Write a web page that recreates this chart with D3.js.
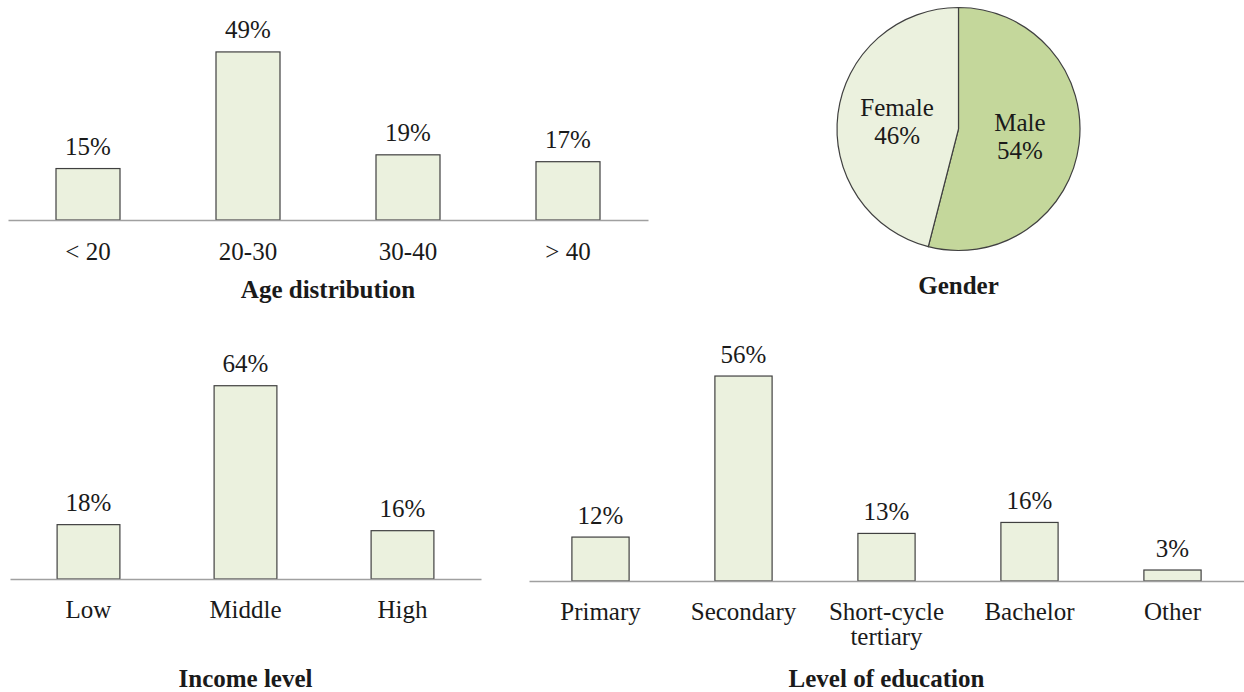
<!DOCTYPE html>
<html>
<head>
<meta charset="utf-8">
<script src="https://cdn.jsdelivr.net/npm/d3@7"></script>
<style>
  html, body { margin: 0; padding: 0; background: #ffffff; }
  svg { display: block; }
</style>
</head>
<body>
<svg id="chart" width="1244" height="692"></svg>
<script>
// Survey profile data (percent of respondents)
const ageCategories = ["< 20", "20-30", "30-40", "> 40"];
const ageValues = [15, 49, 19, 17];

const genderCategories = ["Male", "Female"];
const genderValues = [54, 46];

const incomeCategories = ["Low", "Middle", "High"];
const incomeValues = [18, 64, 16];

const educationCategories = ["Primary", "Secondary", "Short-cycle tertiary", "Bachelor", "Other"];
const educationValues = [12, 56, 13, 16, 3];

const svg = d3.select("#chart");
const SERIF = "'Liberation Serif', 'Times New Roman', 'DejaVu Serif', serif";
const FONT = 25;
const TEXT_COLOR = "#1a1a1a";
const barFill = "#ebf1de";
const barStroke = "#404040";
const axisColor = "#a0a0a0";

function styleText(sel, bold) {
  return sel
    .style("font-family", SERIF)
    .style("font-size", FONT + "px")
    .style("font-weight", bold ? "bold" : "normal")
    .style("fill", TEXT_COLOR);
}

function barPanel(opts) {
  const { categories, values, x0, x1, baseY, yMax, yTop, labelY, titleY, title } = opts;
  const g = svg.append("g");
  const x = d3.scaleBand().domain(categories).range([x0, x1])
    .paddingInner(0.6).paddingOuter(0.3);
  const y = d3.scaleLinear().domain([0, yMax]).range([baseY, yTop]);

  g.selectAll("rect.bar").data(values).join("rect")
    .attr("class", "bar")
    .attr("x", (d, i) => x(categories[i]))
    .attr("y", d => y(d))
    .attr("width", x.bandwidth())
    .attr("height", d => baseY - y(d))
    .attr("fill", barFill)
    .attr("stroke", barStroke)
    .attr("stroke-width", 1.2);

  g.selectAll("text.val").data(values).join("text")
    .attr("class", "val")
    .attr("x", (d, i) => x(categories[i]) + x.bandwidth() / 2)
    .attr("y", d => y(d) - 22)
    .attr("text-anchor", "middle")
    .attr("dominant-baseline", "central")
    .call(styleText, false)
    .text(d => d + "%");

  const axis = d3.axisBottom(x).tickSize(0).tickSizeOuter(0).tickPadding(0).tickFormat(() => "");
  const ax = g.append("g").attr("transform", `translate(0,${baseY})`).call(axis);
  ax.select(".domain").attr("stroke", axisColor).attr("stroke-width", 1.5);

  // category labels, long names wrapped onto two lines
  ax.selectAll(".tick").each(function(d) {
    const t = d3.select(this).append("text")
      .attr("y", labelY - baseY)
      .attr("text-anchor", "middle")
      .attr("dominant-baseline", "central")
      .call(styleText, false);
    const words = d.length > 12 ? d.split(" ") : [d];
    words.forEach((w, i) => {
      t.append("tspan").attr("x", 0).attr("dy", i === 0 ? 0 : 25).text(w);
    });
  });

  g.append("text")
    .attr("x", (x0 + x1) / 2)
    .attr("y", titleY)
    .attr("text-anchor", "middle")
    .attr("dominant-baseline", "central")
    .call(styleText, true)
    .text(title);
}

barPanel({ categories: ageCategories, values: ageValues, x0: 8, x1: 648, baseY: 220,
  yMax: 50, yTop: 220 - 171.5, labelY: 251, titleY: 289, title: "Age distribution" });

barPanel({ categories: incomeCategories, values: incomeValues, x0: 10, x1: 481, baseY: 579,
  yMax: 70, yTop: 579 - 211.4, labelY: 609, titleY: 678, title: "Income level" });

barPanel({ categories: educationCategories, values: educationValues, x0: 529, x1: 1244, baseY: 581,
  yMax: 60, yTop: 581 - 219.6, labelY: 611, titleY: 678, title: "Level of education" });

// Gender pie
const cx = 958.5, cy = 129, r = 121.5;
const pieG = svg.append("g").attr("transform", `translate(${cx},${cy})`);
const pie = d3.pie().sort(null).value(d => d)(genderValues);
const arc = d3.arc().innerRadius(0).outerRadius(r);
const pieColors = ["#c4d79b", "#ebf1de"];
pieG.selectAll("path").data(pie).join("path")
  .attr("d", arc)
  .attr("fill", (d, i) => pieColors[i])
  .attr("stroke", "#404040")
  .attr("stroke-width", 1.2);

const labelArc = d3.arc().innerRadius(r * 0.51).outerRadius(r * 0.51);
pie.forEach((d, i) => {
  const [lx, ly] = labelArc.centroid(d);
  const t = pieG.append("text")
    .attr("text-anchor", "middle")
    .call(styleText, false);
  t.append("tspan").attr("x", lx).attr("y", ly - 14).attr("dominant-baseline", "central").text(genderCategories[i]);
  t.append("tspan").attr("x", lx).attr("y", ly + 14).attr("dominant-baseline", "central").text(genderValues[i] + "%");
});

svg.append("text")
  .attr("x", cx).attr("y", 285)
  .attr("text-anchor", "middle")
  .attr("dominant-baseline", "central")
  .call(styleText, true)
  .text("Gender");
</script>
</body>
</html>
